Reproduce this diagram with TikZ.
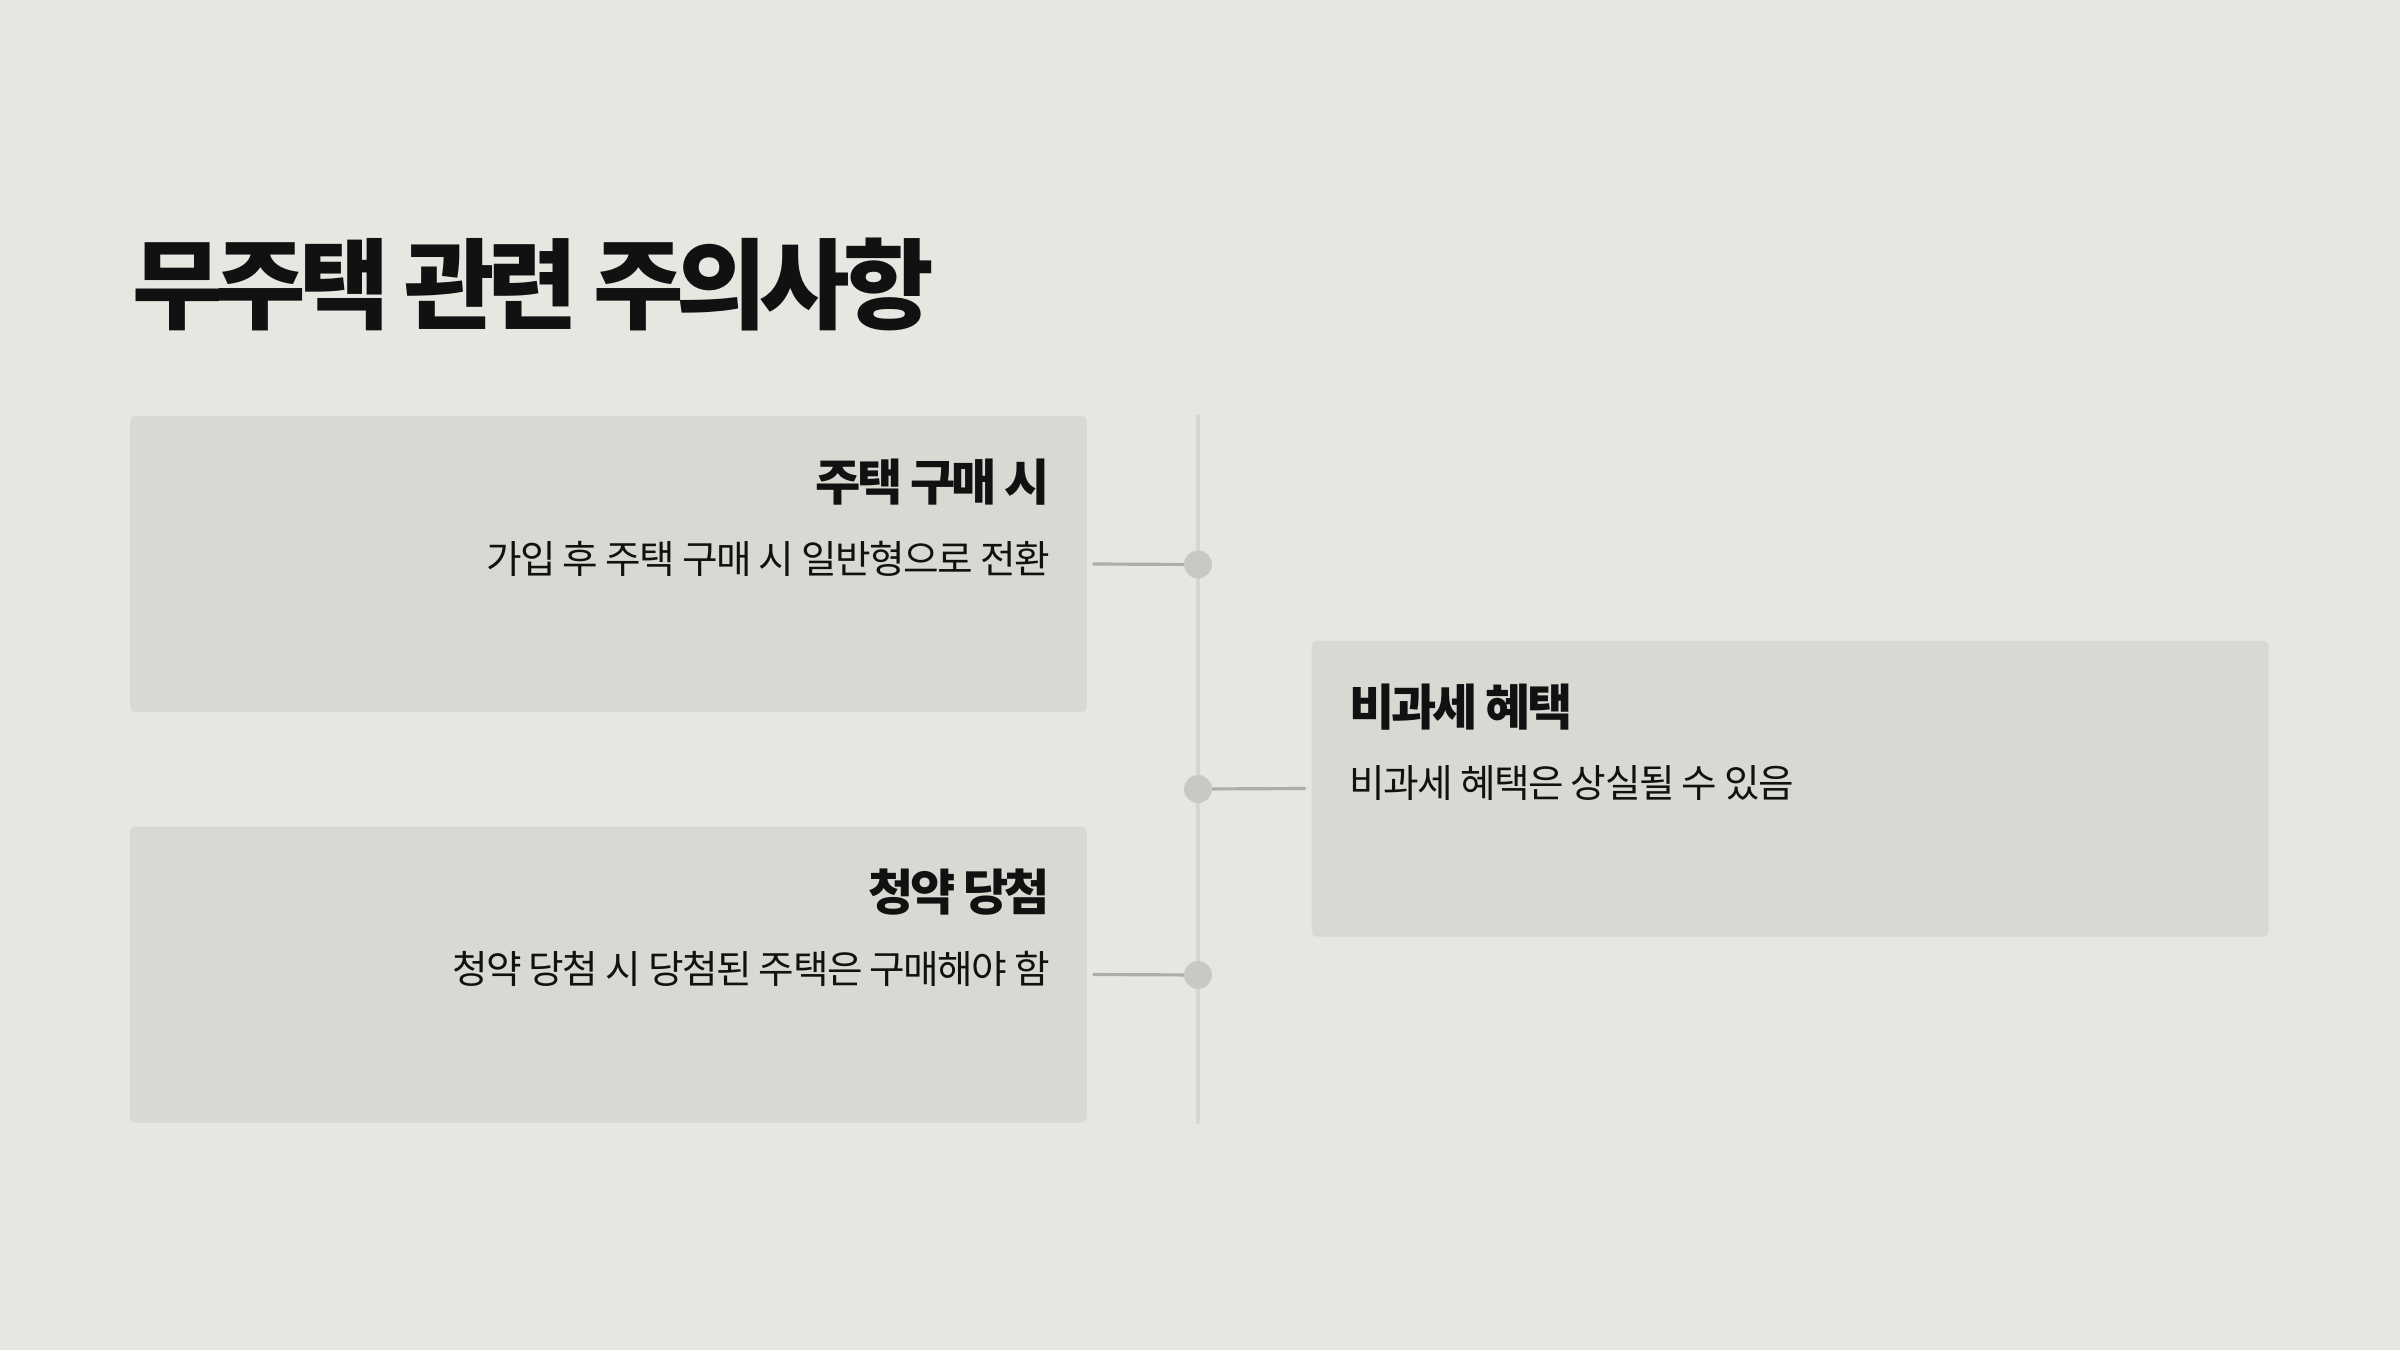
\documentclass[tikz,border=0pt]{standalone}
\usepackage{fontspec}
\setmainfont{Noto Sans CJK KR}[LetterSpace=-4, BoldFeatures={LetterSpace=-7.5}]
\usetikzlibrary{positioning}

\definecolor{bgcol}{HTML}{E7E7E1}
\definecolor{cardcol}{HTML}{D9D9D3}
\definecolor{railcol}{HTML}{D6D6D0}
\definecolor{dotcol}{HTML}{C9C9C3}
\definecolor{linkcol}{HTML}{AEAEA8}
\definecolor{inkcol}{HTML}{111111}

\tikzset{
  card/.style={fill=cardcol, rounded corners=0.05cm, minimum width=9.57cm, minimum height=2.96cm, inner sep=0pt},
  cardhead/.style={font=\bfseries\fontsize{14}{16}\selectfont, text=inkcol, inner sep=0pt},
  cardbody/.style={font=\fontsize{11}{13}\selectfont, text=inkcol, inner sep=0pt},
  pin/.style={circle, fill=dotcol, minimum size=0.28cm, inner sep=0pt},
  link/.style={linkcol, line width=0.9pt}
}

\begin{document}
\begin{tikzpicture}
                \fill[bgcol] (0,0) rectangle (24,13.5);
                \useasboundingbox (0,0) rectangle (24,13.5);
                \node[anchor=west, font=\bfseries\fontsize{28}{32}\selectfont, text=inkcol, inner sep=0pt] (title) at (1.32,10.66) {무주택 관련 주의사항};
                % cards
                \node[card] (buy) at (6.085,7.86) {};
                \node[card] (win) at (6.085,3.755) {};
                \node[card] (tax) at (17.90,5.615) {};
                \node[cardhead, anchor=east] (buyhead) at ([xshift=-0.37cm, yshift=-0.67cm]buy.north east) {주택 구매 시};
                \node[cardbody, anchor=east] (buybody) at ([xshift=-0.37cm, yshift=-1.44cm]buy.north east) {가입 후 주택 구매 시 일반형으로 전환};
                \node[cardhead, anchor=east] (winhead) at ([xshift=-0.37cm, yshift=-0.66cm]win.north east) {청약 당첨};
                \node[cardbody, anchor=east] (winbody) at ([xshift=-0.37cm, yshift=-1.43cm]win.north east) {청약 당첨 시 당첨된 주택은 구매해야 함};
                \node[cardhead, anchor=west] (taxhead) at ([xshift=0.38cm, yshift=-0.67cm]tax.north west) {비과세 혜택};
                \node[cardbody, anchor=west] (taxbody) at ([xshift=0.38cm, yshift=-1.43cm]tax.north west) {비과세 혜택은 상실될 수 있음};
                % rail
                \coordinate (railtop) at (11.98,9.34);
                \coordinate (railbot) at (11.98,2.28);
                \coordinate (buyjoint) at (11.98,7.855);
                \coordinate (taxjoint) at (11.98,5.61);
                \coordinate (winjoint) at (11.98,3.75);
                \draw[railcol, line width=1.1pt, line cap=round] (railtop) -- (railbot);
                \draw[link, line cap=round] ([xshift=0.06cm]buy.east) -- (buyjoint);
                \draw[link, line cap=round] (taxjoint) -- ([xshift=-0.06cm]tax.west);
                \draw[link, line cap=round] ([xshift=0.06cm]win.east) -- (winjoint);
                \node[pin] (buydot) at (buyjoint) {};
                \node[pin] (taxdot) at (taxjoint) {};
                \node[pin] (windot) at (winjoint) {};
            \end{tikzpicture}
\end{document}
